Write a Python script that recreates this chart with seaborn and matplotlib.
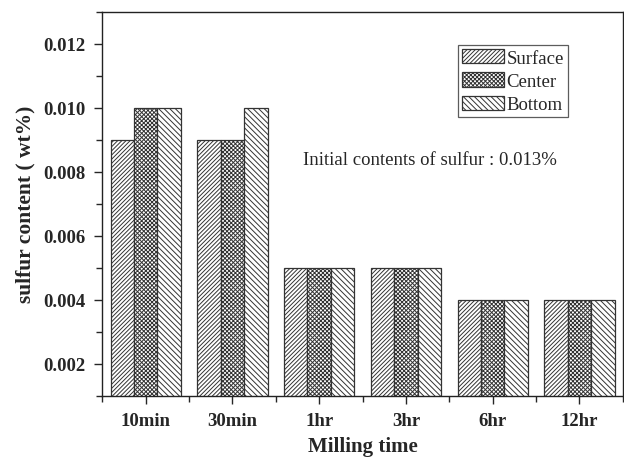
import pandas as pd
import matplotlib.pyplot as plt
import seaborn as sns
from matplotlib.ticker import MultipleLocator, AutoMinorLocator

# values
times = ["10min", "30min", "1hr", "3hr", "6hr", "12hr"]
surface = [0.009, 0.009, 0.005, 0.005, 0.004, 0.004]
center = [0.010, 0.009, 0.005, 0.005, 0.004, 0.004]
bottom = [0.010, 0.010, 0.005, 0.005, 0.004, 0.004]
positions = ["Surface", "Center", "Bottom"]
hatches = ["////////", "xxxxxxxx", "\\\\\\\\\\\\"]

rows = []
for name, vals in zip(positions, [surface, center, bottom]):
    for t, v in zip(times, vals):
        rows.append({"Milling time": t, "Position": name, "sulfur": v})
df = pd.DataFrame(rows)

sns.set_style("ticks")
plt.rcParams['font.family'] = ['Liberation Serif', 'DejaVu Serif']
plt.rcParams['hatch.linewidth'] = 0.7
plt.rcParams['hatch.color'] = '#333333'
plt.rcParams['axes.linewidth'] = 1.0

fig, ax = plt.subplots(figsize=(6.24, 4.6), dpi=100)
sns.barplot(data=df, x="Milling time", y="sulfur", hue="Position",
            order=times, hue_order=positions,
            palette=["white"] * 3, edgecolor="#333333", linewidth=0.9,
            width=0.81, gap=0, saturation=1, ax=ax)

for cont, h in zip(ax.containers, hatches):
    for bar in cont:
        bar.set_hatch(h)

# legend with hatched handles
handles, labels = ax.get_legend_handles_labels()
for hd, h in zip(handles, hatches):
    hd.set_hatch(h)
    hd.set_edgecolor("#333333")
leg = ax.legend(handles, labels, loc="upper left", bbox_to_anchor=(0.683, 0.913),
                frameon=True, fancybox=False, edgecolor="#333333",
                fontsize=13.5, handlelength=2.25, handleheight=0.8,
                handletextpad=0.15, labelspacing=0.3, borderpad=0.2,
                borderaxespad=0)
leg.get_frame().set_linewidth(0.9)

ax.text(0.385, 0.615, "Initial contents of sulfur : 0.013%", transform=ax.transAxes,
        fontsize=13.5, va="center", ha="left")

ax.set_xlim(-0.5, 5.5)
ax.set_ylim(0.001, 0.013)
ax.yaxis.set_major_locator(MultipleLocator(0.002))
ax.yaxis.set_minor_locator(AutoMinorLocator(2))
ax.set_xticks(range(len(times)))
ax.set_xticks([i + 0.5 for i in range(-1, len(times))], minor=True)
ax.set_xticklabels(times)
ax.yaxis.set_major_formatter(plt.FuncFormatter(lambda v, p: f"{v:.3f}"))

ax.tick_params(axis="both", which="major", direction="out", length=6, width=1,
               labelsize=13.5, pad=6)
ax.tick_params(axis="both", which="minor", direction="out", length=4, width=1)
for lab in ax.get_xticklabels() + ax.get_yticklabels():
    lab.set_fontweight("bold")

ax.set_xlabel("Milling time", fontsize=15, fontweight="bold", labelpad=5)
ax.set_ylabel("sulfur content ( wt%)", fontsize=15.5, fontweight="bold", labelpad=6)

for s in ax.spines.values():
    s.set_visible(True)
    s.set_color("#222222")

fig.subplots_adjust(left=0.164, right=0.998, top=0.972, bottom=0.138)
plt.savefig("out.png", dpi=100)
